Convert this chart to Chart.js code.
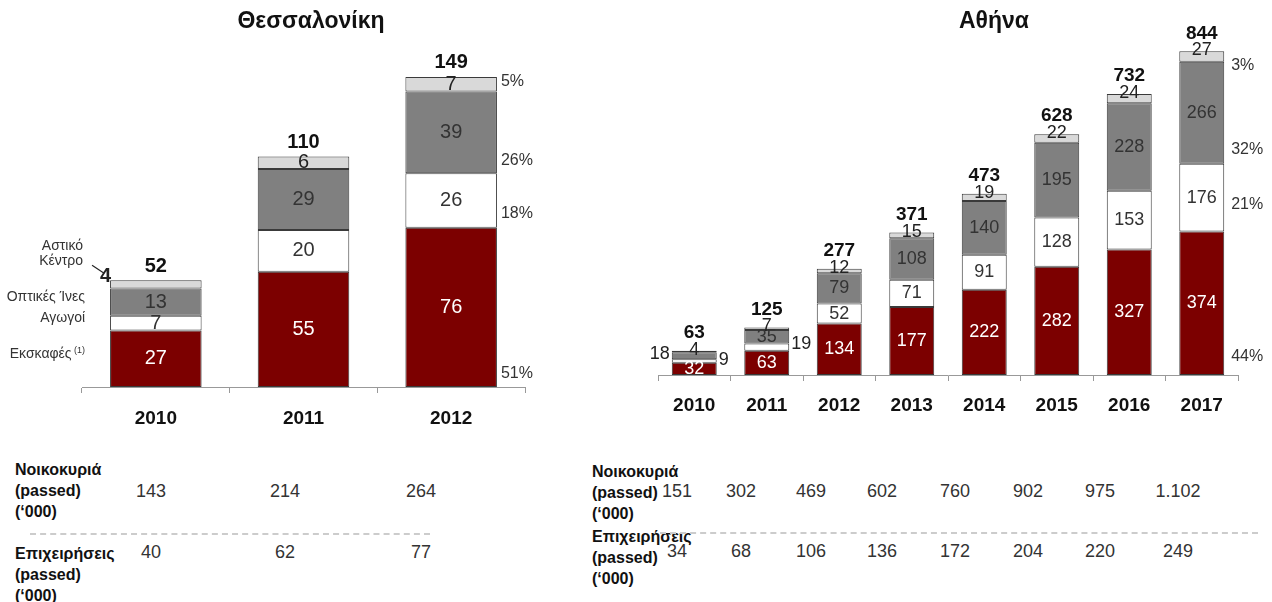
<!DOCTYPE html>
<html><head><meta charset="utf-8">
<script src="https://cdn.jsdelivr.net/npm/chart.js@4"></script>
<style>
body{margin:0;width:1272px;height:602px;background:#fff;position:relative;overflow:hidden;font-family:"Liberation Sans",Arial,sans-serif;color:#222;}
canvas{position:absolute;top:0;}
#c1{left:0;}
#c2{left:600px;}
.t{position:absolute;white-space:nowrap;}
.title{font-weight:bold;font-size:23px;color:#111;transform:translateX(-50%);top:7px;}
.lab{font-weight:bold;font-size:16px;line-height:21px;color:#111;}
.v{font-size:18px;color:#333;transform:translateX(-50%);}
.dash{position:absolute;height:0;border-top:2px dashed #cccccc;}
</style></head><body>
<canvas id="c1" width="600" height="440"></canvas>
<canvas id="c2" width="672" height="430"></canvas>
<div class="t title" style="left:311px">Θεσσαλονίκη</div>
<div class="t title" style="left:994px">Αθήνα</div>
<div id="tables"></div>
<script>
// ---- data ----
const thesYears = ['2010','2011','2012'];
const thesExcav = [27, 55, 76];      // Εκσκαφές
const thesDucts = [7, 20, 26];       // Αγωγοί
const thesFiber = [13, 29, 39];      // Οπτικές Ίνες
const thesCenter = [4, 6, 7];        // Αστικό Κέντρο
const thesTotals = [52, 110, 149];
const thesPct = ['51%', '18%', '26%', '5%'];

const athYears = ['2010','2011','2012','2013','2014','2015','2016','2017'];
const athExcav = [32, 63, 134, 177, 222, 282, 327, 374];
const athDucts = [9, 19, 52, 71, 91, 128, 153, 176];
const athFiber = [18, 35, 79, 108, 140, 195, 228, 266];
const athCenter = [4, 7, 12, 15, 19, 22, 24, 27];
const athTotals = [63, 125, 277, 371, 473, 628, 732, 844];
const athPct = ['44%', '21%', '32%', '3%'];

const thesHouseholds = ['143', '214', '264'];
const thesBusiness = ['40', '62', '77'];
const athHouseholds = ['151', '302', '469', '602', '760', '902', '975', '1.102'];
const athBusiness = ['34', '68', '106', '136', '172', '204', '220', '249'];

const seriesNames = ['Εκσκαφές', 'Αγωγοί', 'Οπτικές Ίνες', 'Αστικό Κέντρο'];
const colors = ['#7c0000', '#ffffff', '#808080', '#d9d9d9'];
const labelColors = ['#ffffff', '#333333', '#333333', '#333333'];
const FF = '"Liberation Sans", Arial, sans-serif';

// ---- label plugin ----
const labelPlugin = {
  id: 'segLabels',
  afterDatasetsDraw(chart, args, opts) {
    const ctx = chart.ctx;
    ctx.save();
    const n = chart.data.labels.length;
    const nds = chart.data.datasets.length;
    for (let i = 0; i < nds; i++) {
      const meta = chart.getDatasetMeta(i);
      meta.data.forEach((bar, j) => {
        const v = chart.data.datasets[i].data[j];
        const top = bar.y, bottom = bar.base, h = bottom - top;
        const left = bar.x - bar.width / 2, right = bar.x + bar.width / 2;
        ctx.fillStyle = labelColors[i];
        ctx.font = opts.segFont;
        ctx.textBaseline = 'middle';
        let x = bar.x, y = (top + bottom) / 2, align = 'center';
        if (i === 3) {
          ctx.fillStyle = '#222';
          if (h < 12) y = top - 1;
          if (opts.leftTopIdx === j) { x = left + 1; y = top - 4; align = 'right'; ctx.font = 'bold ' + opts.segFont; }
        } else if (h < 12) {
          ctx.fillStyle = '#222';
          if (i === 1) { x = right + 2; align = 'left'; y = top + 1; }
          if (i === 2) { x = left - 2; align = 'right'; y = top + 2; }
        }
        ctx.textAlign = align;
        ctx.fillText(String(v), x, y);
        // percentages on last bar
        if (j === n - 1) {
          ctx.fillStyle = '#333';
          ctx.font = opts.pctFont;
          ctx.textAlign = 'left';
          ctx.fillText(opts.pct[i], right + opts.pctGap, bottom - opts.pctOff[i]);
        }
      });
    }
    // totals
    const topMeta = chart.getDatasetMeta(nds - 1);
    ctx.font = opts.totFont;
    ctx.fillStyle = '#111';
    ctx.textAlign = 'center';
    ctx.textBaseline = 'middle';
    topMeta.data.forEach((bar, j) => {
      ctx.fillText(String(opts.totals[j]), bar.x, bar.y - opts.totGap);
    });
    // side series labels (left chart)
    if (opts.sideLabels) {
      ctx.font = '14px ' + FF;
      ctx.fillStyle = '#333';
      ctx.textAlign = 'right';
      const b0 = chart.getDatasetMeta(0).data[0];
      const xr = b0.x - b0.width / 2 - 25;
      for (let i = 0; i < 3; i++) {
        const b = chart.getDatasetMeta(i).data[0];
        const cy = (b.y + b.base) / 2 - 5;
        if (i === 0) {
          ctx.font = '9px ' + FF;
          ctx.fillText('(1)', xr, cy - 3);
          const w = ctx.measureText('(1) ').width;
          ctx.font = '14px ' + FF;
          ctx.fillText(seriesNames[0], xr - w, cy);
        } else {
          ctx.fillText(seriesNames[i], xr, cy);
        }
      }
      const b3 = chart.getDatasetMeta(3).data[0];
      ctx.fillText('Αστικό', xr - 2, b3.y - 34);
      ctx.fillText('Κέντρο', xr - 2, b3.y - 19);
      ctx.strokeStyle = '#222';
      ctx.lineWidth = 1.2;
      ctx.beginPath();
      ctx.moveTo(xr + 7, b3.y - 15);
      ctx.lineTo(xr + 19, b3.y - 7);
      ctx.stroke();
    }
    ctx.restore();
  }
};

function makeChart(id, years, series, yMax, pad, opts) {
  return new Chart(document.getElementById(id), {
    type: 'bar',
    data: {
      labels: years,
      datasets: series.map((d, i) => ({
        label: seriesNames[i], data: d, backgroundColor: colors[i],
        borderColor: '#3a3a3a', borderWidth: 1, borderSkipped: false,
        barPercentage: 0.62, categoryPercentage: 1
      }))
    },
    options: {
      responsive: false, animation: false, devicePixelRatio: 1,
      layout: { padding: pad },
      plugins: { legend: { display: false }, tooltip: { enabled: false }, segLabels: opts },
      scales: {
        x: {
          stacked: true,
          grid: { display: true, drawOnChartArea: false, drawTicks: true, tickLength: 6, color: '#999', offset: true },
          border: { display: true, color: '#999' },
          ticks: { color: '#111', font: { family: FF, size: opts.yearSize, weight: 'bold' }, padding: opts.yearPad },
          afterFit: s => { s.height = 40; }
        },
        y: { stacked: true, display: false, min: 0, max: yMax }
      }
    },
    plugins: [labelPlugin]
  });
}

makeChart('c1', thesYears, [thesExcav, thesDucts, thesFiber, thesCenter], 347 / 2.095,
  { left: 82, right: 75, top: 40, bottom: 13 },
  { segFont: '20px ' + FF, pctFont: '16px ' + FF,
    totFont: 'bold 20px ' + FF, totals: thesTotals, totGap: 14,
    pct: thesPct, pctGap: 4, pctOff: [13, 14, 13, 10], leftTopIdx: 0, sideLabels: true, yearSize: 19, yearPad: 14 });

makeChart('c2', athYears, [athExcav, athDucts, athFiber, athCenter], 335 / 0.384,
  { left: 58, right: 34, top: 40, bottom: 15 },
  { segFont: '18px ' + FF, pctFont: '16px ' + FF,
    totFont: 'bold 19px ' + FF, totals: athTotals, totGap: 18,
    pct: athPct, pctGap: 7, pctOff: [18, 27, 14, -4], leftTopIdx: -1, sideLabels: false, yearSize: 19, yearPad: 13 });

// ---- tables ----
const tb = document.getElementById('tables');
function addText(cls, x, y, html) {
  const d = document.createElement('div');
  d.className = 't ' + cls; d.style.left = x + 'px'; d.style.top = y + 'px'; d.innerHTML = html;
  tb.appendChild(d);
}
const rowLabel1 = 'Νοικοκυριά<br>(passed)<br>(‘000)';
const rowLabel2 = 'Επιχειρήσεις<br>(passed)<br>(‘000)';
addText('lab', 15, 459, rowLabel1);
addText('lab', 15, 543, rowLabel2);
addText('lab', 592, 461, rowLabel1);
addText('lab', 592, 526, rowLabel2);
const thesX = [151, 285, 421];
thesHouseholds.forEach((v, i) => addText('v', thesX[i], 481, v));
thesBusiness.forEach((v, i) => addText('v', thesX[i], 542, v));
const athX = [677, 741, 811, 882, 955, 1028, 1100, 1178];
athHouseholds.forEach((v, i) => addText('v', athX[i], 481, v));
athBusiness.forEach((v, i) => addText('v', athX[i], 541, v));
const d1 = document.createElement('div'); d1.className = 'dash';
d1.style.cssText = 'left:30px;top:533px;width:400px;'; tb.appendChild(d1);
const d2 = document.createElement('div'); d2.className = 'dash';
d2.style.cssText = 'left:660px;top:532px;width:598px;'; tb.appendChild(d2);
</script>
</body></html>
